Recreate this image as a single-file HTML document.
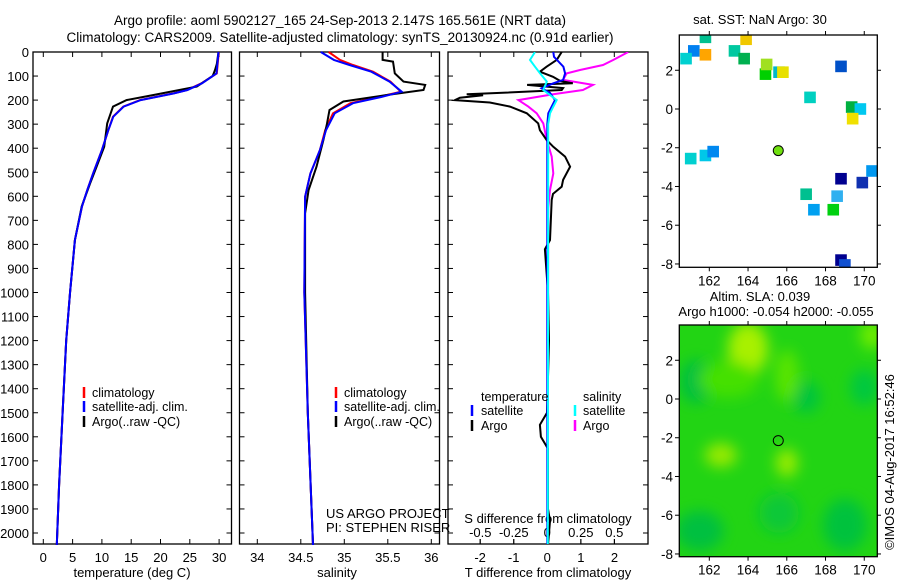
<!DOCTYPE html>
<html><head><meta charset="utf-8"><title>Argo profile</title>
<style>
html,body{margin:0;padding:0;background:#fff;}
svg{display:block;font-family:"Liberation Sans",sans-serif;}
text{font-size:13px;fill:#000;}
</style></head>
<body>
<svg id="chart" width="900" height="580" viewBox="0 0 900 580" xmlns="http://www.w3.org/2000/svg">
<defs>
<filter id="blur" x="-50%" y="-50%" width="200%" height="200%"><feGaussianBlur stdDeviation="7"/></filter>
<clipPath id="clipM2"><rect x="679.3" y="325" width="198" height="231.7"/></clipPath>
<clipPath id="clipM1"><rect x="679.3" y="35" width="198" height="232.3"/></clipPath>
<clipPath id="clipP3"><rect x="448" y="52" width="200" height="492"/></clipPath>
</defs>
<text x="340" y="25" text-anchor="middle" style="font-size:13.5px">Argo profile: aoml 5902127_165 24-Sep-2013 2.147S 165.561E (NRT data)</text>
<text x="340" y="42" text-anchor="middle" style="font-size:13.5px">Climatology: CARS2009. Satellite-adjusted climatology: synTS_20130924.nc (0.91d earlier)</text>
<g id="g"></g>
</svg>
<script>
// ---- profile data ----
const depthsArgoT = [0,50,75,100,144,179,200,227,297,394,477,545,642,782,1002,1200,1500,1800,2050];
const argoT = [29.9,29.6,29.3,28.9,26.2,18.8,14.2,11.9,10.9,10.4,9.1,8.0,6.55,5.4,4.55,3.9,3.3,2.7,2.3];
const depthsClimT = [0,89,130,158,172,200,227,269,325,408,505,574,642,782,1002,1200,1500,1800,2050];
const climT = [29.95,29.6,27.0,24.5,22.2,16.5,13.65,11.9,11.1,10.0,8.5,7.5,6.6,5.4,4.55,3.9,3.3,2.7,2.3];
const satT = [29.9,29.55,27.1,24.6,22.3,16.6,13.7,11.95,11.1,10.0,8.5,7.5,6.6,5.4,4.55,3.9,3.3,2.7,2.3];

const depthsArgoS = [0,33,40,89,123,137,158,179,206,241,300,366,477,574,671,1000,1500,2050];
const argoS = [35.44,35.44,35.56,35.58,35.68,35.93,35.91,35.49,34.99,34.83,34.80,34.76,34.68,34.59,34.55,34.55,34.58,34.64];
const depthsClimS = [0,33,54,82,123,165,186,213,255,325,408,505,602,1000,1500,2050];
const climS = [34.82,34.95,35.10,35.33,35.53,35.65,35.41,35.07,34.87,34.78,34.72,34.61,34.55,34.54,34.58,34.64];
const satS = [34.73,34.88,35.06,35.31,35.52,35.66,35.44,35.10,34.89,34.79,34.72,34.61,34.55,34.54,34.58,34.64];

const depthsDiffArgoT = [0,33,61,82,103,120,130,137,150,158,170,176,180,190,200,210,227,255,297,325,366,394,435,477,532,560,590,615,782,820,1000,1200,1500,1550,1600,1650,1900,1950,2050];
const diffArgoT = [0.43,0.28,-0.02,-0.22,0.17,0.38,0.76,-0.60,0.47,0.43,-1.41,-2.40,-1.91,-2.60,-2.75,-1.71,-1.11,-0.61,-0.27,-0.22,-0.02,0.18,0.53,0.68,0.47,0.43,0.17,0.13,0.08,-0.07,0.02,0.05,-0.01,-0.22,-0.19,0.02,0.02,0.08,0.02];
const depthsDiffSatT = [0,20,61,89,116,130,151,170,200,227,255,300,2050];
const diffSatT = [0.18,0.20,0.48,0.53,0.47,0.18,-0.17,0.08,0.23,0.13,0.03,0,0];
const depthsDiffSatS = [0,33,61,89,123,158,200,227,255,300,2050];
const diffSatS = [-0.092,-0.129,-0.092,-0.054,-0.004,-0.030,0.070,0.045,0.020,0.007,0.004];
const depthsDiffArgoS = [0,33,54,75,89,116,137,158,176,200,227,255,297,366,435,505,574,650,2050];
const diffArgoS = [0.604,0.493,0.416,0.244,0.145,0.117,0.341,0.266,0.043,-0.216,-0.142,-0.079,-0.030,-0.004,0.033,0.045,0.020,0.007,0.004];

const depthTicks = [0,100,200,300,400,500,600,700,800,900,1000,1100,1200,1300,1400,1500,1600,1700,1800,1900,2000];
const tTicks = [0,5,10,15,20,25,30];
const sTicks = [34,34.5,35,35.5,36];
const sTickLabels = ["34","34.5","35","35.5","36"];
const dTTicks = [-2,-1,0,1,2];
const dSTicks = [-0.5,-0.25,0,0.25,0.5];
const dSTickLabels = ["-0.5","-0.25","0","0.25","0.5"];

// ---- map data ----
const lonTicks = [162,164,166,168,170];
const latTicks = [2,0,-2,-4,-6,-8];
const sstLon = [161.8,161.2,161.8,160.8,163.9,163.3,163.8,164.9,164.96,165.6,165.8,168.8,167.2,169.35,169.8,169.4,161.04,161.8,162.2,170.4,168.8,169.9,167.0,168.6,167.4,168.4,168.8,169.0];
const sstLat = [3.7,3.0,2.8,2.6,3.6,3.0,2.6,1.8,2.3,1.9,1.9,2.2,0.6,0.1,0.0,-0.5,-2.56,-2.4,-2.2,-3.2,-3.6,-3.8,-4.4,-4.5,-5.2,-5.2,-7.8,-8.05];
const sstColor = ["#00c090","#0080f0","#ffa500","#00d0d0","#f0c800","#00c8a0","#00b050","#00d000","#a0e020","#00b8c8","#e8e000","#0050c8","#00d0c0","#00b040","#00c8f0","#f0e000","#00d0d0","#00c8e8","#0088f0","#0098f0","#000090","#1030b0","#00c090","#30b0f0","#00a0f0","#00d010","#000090","#1050d0"];
const argoLon = [165.561];
const argoLat = [-2.147];
const slaLon = [164.0,162.6,166.0,161.3,167.0,170.0,161.5,165.6,169.0,163.0,166.0,170.4];
const slaLat = [2.6,-2.9,-3.3,0.9,0.1,0.6,-6.8,-5.9,-6.5,1.0,1.2,3.3];
const slaColor = ["#a8f000","#98ea00","#98ec00","#00c040","#00c43c","#00c840","#00c040","#08c838","#00c23c","#44e000","#58e400","#70ec00"];
const slaRx = [20,16,11,16,14,14,24,20,22,30,12,12];
const slaRy = [26,12,14,22,16,18,20,20,26,18,26,14];

const NS="http://www.w3.org/2000/svg";
const G=document.getElementById('g');
function mk(tag,attrs,parent){const e=document.createElementNS(NS,tag);for(const k in attrs)e.setAttribute(k,attrs[k]);(parent||G).appendChild(e);return e;}

const yD = d => 52 + d*0.2405;
const xT = t => 43.3 + 5.86*t;
const xS = s => 257.3 + 87*(s-34);
const xdT = v => 547.3 + 33.6*v;
const xdS = v => 547.3 + 134*v;
const mX = lon => 709.3 + (lon-162)*19.37;
const m1Y = lat => 109 - lat*19.37;
const m2Y = lat => 399 - lat*19.37;

function frame(x0,y0,x1,y1,name){
  const r=mk('rect',{x:x0,y:y0,width:x1-x0,height:y1-y0,fill:'none',stroke:'#000','stroke-width':1.3});
  
  
}
function hticks(x0,x1){
  depthTicks.forEach(d=>{const y=yD(d);
    mk('line',{x1:x0,y1:y,x2:x0+5,y2:y,stroke:'#000'});
    mk('line',{x1:x1-5,y1:y,x2:x1,y2:y,stroke:'#000'});});
}
function line(xs,ys,color,name,clip){
  const pts=xs.map((x,i)=>x.toFixed(1)+','+ys[i].toFixed(1)).join(' ');
  const p=mk('polyline',{points:pts,fill:'none',stroke:color,'stroke-width':2,'stroke-linejoin':'miter'});
  if(clip)p.setAttribute('clip-path',clip);
  
  
}
function txt(x,y,s,name,anchor,extra){
  const t=mk('text',Object.assign({x:x,y:y,'text-anchor':anchor||'start'},extra||{}));t.textContent=s;
  
  
  return t;
}

// Panel 1: temperature
frame(33,52,231.5,544,'temperature-panel');
hticks(33,231.5);
depthTicks.forEach(d=>txt(29,yD(d)+5,String(d),'depth-tick-label','end'));
tTicks.forEach(t=>{const x=xT(t);mk('line',{x1:x,y1:544,x2:x,y2:539,stroke:'#000'});mk('line',{x1:x,y1:52,x2:x,y2:57,stroke:'#000'});txt(x,562,String(t),'temperature-tick-label','middle');});
txt(132,577,'temperature (deg C)','temperature-axis-title','middle');
line(climT.map(xT),depthsClimT.map(yD),'#f00','clim-temperature-line');
line(argoT.map(xT),depthsArgoT.map(yD),'#000','argo-temperature-line');
line(satT.map(xT),depthsClimT.map(yD),'#00f','satellite-temperature-line');

// Panel 2: salinity
frame(239.5,52,439.5,544,'salinity-panel');
hticks(239.5,439.5);
sTicks.forEach((s,i)=>{const x=xS(s);mk('line',{x1:x,y1:544,x2:x,y2:539,stroke:'#000'});mk('line',{x1:x,y1:52,x2:x,y2:57,stroke:'#000'});txt(x,562,sTickLabels[i],'salinity-tick-label','middle');});
txt(337,577,'salinity','salinity-axis-title','middle');
line(climS.map(xS),depthsClimS.map(yD),'#f00','clim-salinity-line');
line(argoS.map(xS),depthsArgoS.map(yD),'#000','argo-salinity-line');
line(satS.map(xS),depthsClimS.map(yD),'#00f','satellite-salinity-line');
txt(326,518,'US ARGO PROJECT','project-label');
txt(326,532,'PI: STEPHEN RISER','pi-label');

// legends panel 1 & 2
[[84,92],[336,344]].forEach(([lx,tx])=>{
  [['#f00','climatology',397],['#00f','satellite-adj. clim.',411],['#000','Argo(..raw -QC)',426]].forEach(([c,s,y])=>{
    const l=mk('line',{x1:lx,y1:y-10,x2:lx,y2:y+1,stroke:c,'stroke-width':2.5});
    
    
    txt(tx,y,s,'legend-entry',null,{style:'font-size:12.5px'});
  });
});

// Panel 3: differences
frame(448,52,648,544,'difference-panel');
hticks(448,648);
dTTicks.forEach(v=>{const x=xdT(v);mk('line',{x1:x,y1:544,x2:x,y2:539,stroke:'#000'});txt(x,562,String(v),'t-diff-tick-label','middle');});
dSTicks.forEach((v,i)=>{const x=xdS(v);mk('line',{x1:x,y1:544,x2:x,y2:539,stroke:'#000'});mk('line',{x1:x,y1:52,x2:x,y2:57,stroke:'#000'});txt(x,537,dSTickLabels[i],'s-diff-tick-label','middle');});
txt(548,523,'S difference from climatology','s-diff-axis-title','middle');
txt(548,577,'T difference from climatology','t-diff-axis-title','middle');
line(diffArgoS.map(xdS),depthsDiffArgoS.map(yD),'#f0f','argo-salinity-diff-line','url(#clipP3)');
line(diffArgoT.map(xdT),depthsDiffArgoT.map(yD),'#000','argo-temperature-diff-line','url(#clipP3)');
line(diffSatT.map(xdT),depthsDiffSatT.map(yD),'#00f','satellite-temperature-diff-line','url(#clipP3)');
line(diffSatS.map(xdS),depthsDiffSatS.map(yD),'#0ff','satellite-salinity-diff-line','url(#clipP3)');
txt(481,401,'temperature','legend-temperature-header',null,{style:'font-size:12.5px'});
txt(583,401,'salinity','legend-salinity-header',null,{style:'font-size:12.5px'});
[['#00f',472,481,'satellite',415],['#000',472,481,'Argo',430],['#0ff',575,583,'satellite',415],['#f0f',575,583,'Argo',430]].forEach(([c,lx,tx,s,y])=>{
  const l=mk('line',{x1:lx,y1:y-10,x2:lx,y2:y+1,stroke:c,'stroke-width':2.5});
  
  
  txt(tx,y,s,'legend-entry',null,{style:'font-size:12.5px'});
});

// Map axes helper
function mapAxes(yfun,top,bottom){
  lonTicks.forEach(l=>{const x=mX(l);mk('line',{x1:x,y1:bottom,x2:x,y2:bottom+4,stroke:'#000'});mk('line',{x1:x,y1:top,x2:x,y2:top-4,stroke:'#000'});txt(x,bottom+18,String(l),'longitude-tick-label','middle',{style:'font-size:13.5px'});});
  latTicks.forEach(l=>{const y=yfun(l);mk('line',{x1:679.3,y1:y,x2:675,y2:y,stroke:'#000'});mk('line',{x1:877.3,y1:y,x2:881,y2:y,stroke:'#000'});txt(673,y+5,String(l),'latitude-tick-label','end',{style:'font-size:13.5px'});});
}

// Map 1: SST
txt(760,24,'sat. SST: NaN Argo: 30','sst-map-title','middle');
const m1=mk('g',{'clip-path':'url(#clipM1)'});
sstLon.forEach((lon,i)=>{
  const r=mk('rect',{x:mX(lon)-5.8,y:m1Y(sstLat[i])-5.8,width:11.6,height:11.6,fill:sstColor[i]},m1);
  
  
});
frame(679.3,35,877.3,267.3,'sst-map-frame');
mapAxes(m1Y,35,267.3);
argoLon.forEach((lon,i)=>{
  const c=mk('circle',{cx:mX(lon),cy:m1Y(argoLat[i]),r:5,fill:'#70e010',stroke:'#000','stroke-width':1});
  
  
});

// Map 2: SLA
txt(760,301,'Altim. SLA: 0.039','sla-map-title','middle');
txt(776,316,'Argo h1000: -0.054 h2000: -0.055','argo-height-label','middle');
const m2=mk('g',{'clip-path':'url(#clipM2)'});
const bg=mk('rect',{x:679.3,y:325,width:198,height:231.7,fill:'#22d414'},m2);


const m2b=mk('g',{filter:'url(#blur)'},m2);
slaLon.forEach((lon,i)=>{
  const e=mk('ellipse',{cx:mX(lon),cy:m2Y(slaLat[i]),rx:slaRx[i],ry:slaRy[i],fill:slaColor[i]},m2b);
  
  
});
frame(679.3,325,877.3,556.7,'sla-map-frame');
mapAxes(m2Y,325,556.7);
argoLon.forEach((lon,i)=>{
  const c=mk('circle',{cx:mX(lon),cy:m2Y(argoLat[i]),r:5,fill:'none',stroke:'#000','stroke-width':1});
  
  
});
txt(0,0,'©IMOS 04-Aug-2017 16:52:46','imos-timestamp','middle',{transform:'translate(894,462) rotate(-90)'});
</script>
</body></html>
